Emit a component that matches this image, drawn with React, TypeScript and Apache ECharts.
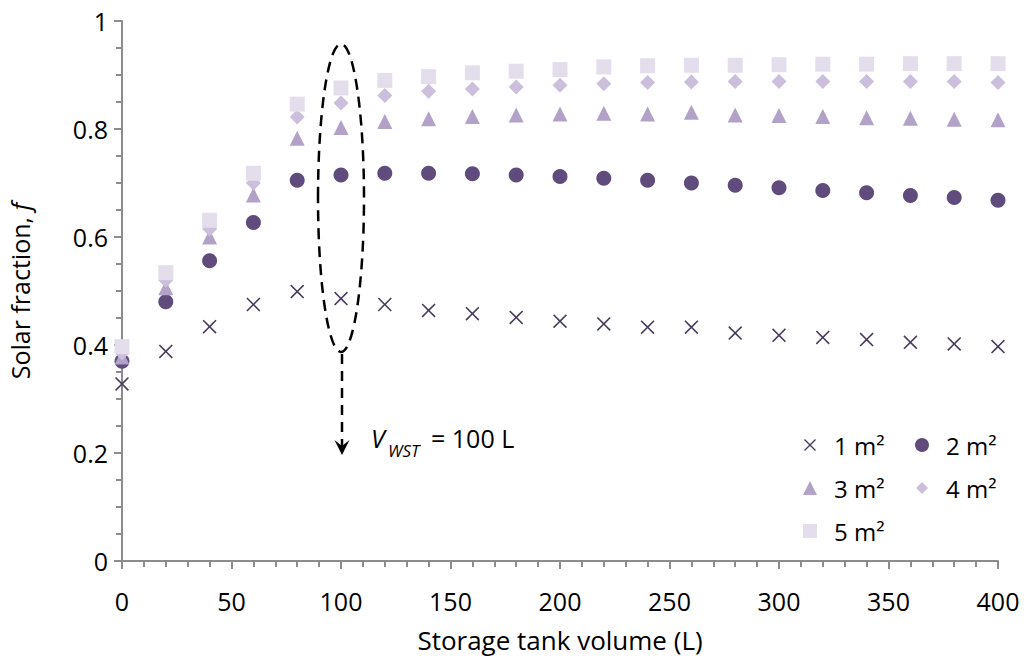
import { useEffect, useRef } from "react";
import * as echarts from "echarts";

const volumes = [0, 20, 40, 60, 80, 100, 120, 140, 160, 180, 200, 220, 240, 260, 280, 300, 320, 340, 360, 380, 400];
const f1 = [0.328, 0.388, 0.434, 0.475, 0.499, 0.486, 0.475, 0.464, 0.458, 0.451, 0.444, 0.439, 0.433, 0.433, 0.422, 0.418, 0.414, 0.41, 0.405, 0.402, 0.397];
const f2 = [0.37, 0.48, 0.556, 0.627, 0.705, 0.715, 0.718, 0.718, 0.717, 0.715, 0.712, 0.709, 0.705, 0.7, 0.696, 0.691, 0.686, 0.682, 0.677, 0.673, 0.668];
const f3 = [0.378, 0.506, 0.6, 0.678, 0.783, 0.803, 0.814, 0.819, 0.823, 0.826, 0.828, 0.829, 0.828, 0.831, 0.826, 0.825, 0.823, 0.821, 0.82, 0.818, 0.817];
const f4 = [0.385, 0.52, 0.615, 0.7, 0.822, 0.848, 0.862, 0.87, 0.874, 0.878, 0.881, 0.884, 0.886, 0.887, 0.888, 0.888, 0.888, 0.888, 0.888, 0.888, 0.886];
const f5 = [0.397, 0.534, 0.631, 0.718, 0.846, 0.876, 0.89, 0.897, 0.904, 0.907, 0.91, 0.915, 0.917, 0.918, 0.918, 0.919, 0.92, 0.92, 0.921, 0.921, 0.921];
const seriesNames = ["1 m²", "2 m²", "3 m²", "4 m²", "5 m²"];
const seriesValues = [f1, f2, f3, f4, f5];
const xTickLabels = [0, 50, 100, 150, 200, 250, 300, 350, 400];
const yTickLabels = [0, 0.2, 0.4, 0.6, 0.8, 1];

const colors = ["#483a5c", "#5f4b7c", "#b2a2c8", "#cbbfdc", "#e4deec"];
const CROSS = "path://M0,0.8L0.8,0L5,4.2L9.2,0L10,0.8L5.8,5L10,9.2L9.2,10L5,5.8L0.8,10L0,9.2L4.2,5Z";
const symbols = [CROSS, "circle", "triangle", "diamond", "rect"];
const sizes = [14, 15, 15, 15, 15];
const legendIconSizes = [12, 14, 14, 12, 14];
const FONT = "Open Sans";

export default function App() {
  const ref = useRef<HTMLDivElement>(null);
  useEffect(() => {
    if (!ref.current) return;
    const chart = echarts.init(ref.current, undefined, { renderer: "svg" });
    const legendPos = [
      { left: 803, top: 433 },
      { left: 915, top: 433 },
      { left: 803, top: 476 },
      { left: 915, top: 476 },
      { left: 803, top: 519 },
    ];
    chart.setOption({
      animation: false,
      textStyle: { fontFamily: FONT },
      grid: { left: 122, right: 26, top: 21, bottom: 101, containLabel: false, outerBoundsMode: "none" },
      xAxis: {
        type: "value",
        min: 0,
        max: 400,
        interval: 50,
        name: "Storage tank volume (L)",
        nameLocation: "middle",
        nameGap: 66,
        nameTextStyle: { fontSize: 26, color: "#000", fontFamily: FONT },
        axisLine: { show: true, lineStyle: { color: "#8c8c8c", width: 2 } },
        axisTick: { show: true, length: 8, lineStyle: { color: "#8c8c8c", width: 2 } },
        minorTick: { show: true, splitNumber: 5, length: 6, lineStyle: { color: "#8c8c8c", width: 2 } },
        splitLine: { show: false },
        minorSplitLine: { show: false },
        axisLabel: {
          fontSize: 25,
          color: "#000",
          margin: 27,
          fontFamily: FONT,
          formatter: (v: number) => (xTickLabels.includes(v) ? String(v) : ""),
        },
      },
      yAxis: {
        type: "value",
        min: 0,
        max: 1,
        interval: 0.2,
        name: "{a|Solar fraction, }{b|f}",
        nameLocation: "middle",
        nameGap: 90,
        nameTextStyle: {
          rich: {
            a: { fontSize: 25, color: "#000", fontFamily: FONT },
            b: { fontSize: 25, color: "#000", fontFamily: FONT, fontStyle: "italic" },
          },
        },
        axisLine: { show: true, lineStyle: { color: "#8c8c8c", width: 2 } },
        axisTick: { show: true, length: 8, lineStyle: { color: "#8c8c8c", width: 2 } },
        minorTick: { show: true, splitNumber: 4, length: 6, lineStyle: { color: "#8c8c8c", width: 2 } },
        splitLine: { show: false },
        minorSplitLine: { show: false },
        axisLabel: {
          fontSize: 25,
          color: "#000",
          margin: 14,
          fontFamily: FONT,
          formatter: (v: number) => {
            const m = yTickLabels.find((t) => Math.abs(t - v) < 1e-6);
            return m === undefined ? "" : String(m);
          },
        },
      },
      legend: seriesNames.map((n, i) => ({
        data: [n],
        left: legendPos[i].left + (14 - legendIconSizes[i]) / 2,
        top: legendPos[i].top,
        itemWidth: legendIconSizes[i],
        itemHeight: legendIconSizes[i],
        padding: 0,
        selectedMode: false,
        textStyle: {
          fontSize: 24,
          color: "#000",
          fontFamily: FONT,
          padding: [0, 0, 0, 12 + (14 - legendIconSizes[i]) / 2],
        },
      })),
      series: seriesNames.map((n, i) => ({
        name: n,
        type: "scatter",
        symbol: symbols[i],
        symbolSize: sizes[i],
        itemStyle: { color: colors[i], opacity: 1 },
        data: volumes.map((v, j) => [v, seriesValues[i][j]]),
      })),
      graphic: [
        {
          type: "ellipse",
          shape: { cx: 341, cy: 198, rx: 23, ry: 154 },
          style: { fill: "none", stroke: "#000", lineWidth: 2.5, lineDash: [11, 7] },
          z: 10,
        },
        {
          type: "line",
          shape: { x1: 342, y1: 354, x2: 342, y2: 446 },
          style: { stroke: "#000", lineWidth: 2.5, lineDash: [10, 7] },
          z: 10,
        },
        {
          type: "polygon",
          shape: { points: [[342, 455], [334.5, 440], [342, 446], [349.5, 440]] },
          style: { fill: "#000" },
          z: 10,
        },
        {
          type: "text",
          left: 371,
          top: 425,
          style: { text: "V", font: `italic 25px "${FONT}"`, fill: "#000" },
          z: 10,
        },
        {
          type: "text",
          left: 388,
          top: 442,
          style: { text: "WST", font: `italic 17px "${FONT}"`, fill: "#000" },
          z: 10,
        },
        {
          type: "text",
          left: 431,
          top: 425,
          style: { text: "= 100 L", font: `25px "${FONT}"`, fill: "#000" },
          z: 10,
        },
      ],
    });
    return () => chart.dispose();
  }, []);
  return <div ref={ref} style={{ width: 1024, height: 662, position: "absolute", left: 0, top: 0 }} />;
}
